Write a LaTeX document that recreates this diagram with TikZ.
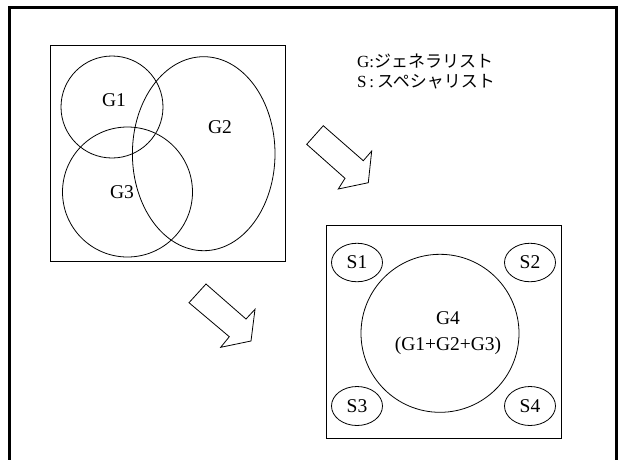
\documentclass[tikz,border=0pt]{standalone}
\usepackage{fontspec}
\setmainfont{Liberation Serif}
\newfontfamily\jp{Noto Sans CJK JP}
\usetikzlibrary{shapes.geometric}
\begin{document}
\begin{tikzpicture}[x=1pt,y=-1pt,
  thin line/.style={draw=black,line width=0.8pt},
  ring/.style={thin line,circle,inner sep=0pt},
  oval/.style={thin line,ellipse,inner sep=0pt},
  lbl/.style={font=\fontsize{19.5}{23}\selectfont,inner sep=0pt},
  legend/.style={font=\fontsize{17}{20}\selectfont,anchor=base west,inner sep=0pt},
  blockarrow/.style={thin line,line join=miter,fill=white}]
\useasboundingbox (0,0) rectangle (624,459);
% outer frame, open at the bottom
\draw[line width=3pt] (9,470) -- (9,7) -- (616,7) -- (616,470);

% overlapping generalist groups
\node[thin line,rectangle,minimum width=235pt,minimum height=216pt,inner sep=0pt] (boxA) at (167.5,153) {};
\node[ring,minimum size=102pt] (c1) at (112,107) {};
\node[oval,minimum width=142.6pt,minimum height=194pt] (c2) at (203.7,153.7) {};
\node[ring,minimum size=130pt] (c3) at (127.5,192) {};
\node[lbl] (t1) at (114,100) {G1};
\node[lbl] (t2) at (220,127) {G2};
\node[lbl] (t3) at (122,192) {G3};

% legend
\node[legend] (leg1) at (357,67.5) {G:{\jp ジェネラリスト}};
\node[legend] (leg2) at (357,87.5) {S\,:\,{\jp スペシャリスト}};

% block arrows
\draw[blockarrow] (323.3,125.7) -- (306.7,144.3) -- (345,178.3) -- (338.3,189)
  -- (368.3,182.7) -- (371.7,151) -- (363.3,160.7) -- cycle;
\draw[blockarrow] (206,284) -- (189,302.7) -- (229.3,336.7) -- (220.7,347.3)
  -- (251,341) -- (255,309.3) -- (246,319) -- cycle;

% merged group with specialists
\node[thin line,rectangle,minimum width=235pt,minimum height=213pt,inner sep=0pt] (boxB) at (443.5,331.5) {};
\node[ring,minimum size=158pt] (c4) at (440,333.3) {};
\node[oval,minimum width=51pt,minimum height=38.5pt] (s1) at (357,262.5) {};
\node[oval,minimum width=51pt,minimum height=38.5pt] (s2) at (530,262.5) {};
\node[oval,minimum width=51pt,minimum height=39pt] (s3) at (357,406) {};
\node[oval,minimum width=51pt,minimum height=39pt] (s4) at (530,406) {};
\node[lbl] at (s1) {S1};
\node[lbl] at (s2) {S2};
\node[lbl] at (s3) {S3};
\node[lbl] at (s4) {S4};
\node[lbl,align=center,font=\fontsize{19.5}{26.5}\selectfont] (t4) at (448,333) {G4\\(G1+G2+G3)};
\end{tikzpicture}
\end{document}
